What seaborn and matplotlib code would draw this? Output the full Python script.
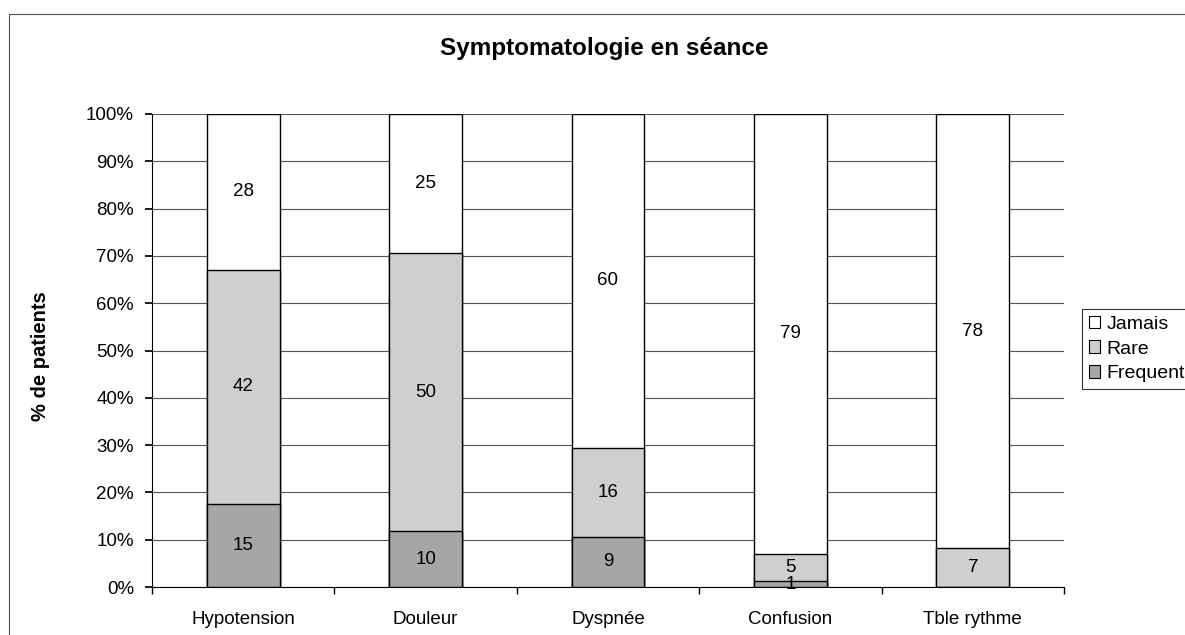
import numpy as np
import pandas as pd
import matplotlib.pyplot as plt
import seaborn as sns
from matplotlib.patches import Patch, Rectangle

categories = ["Hypotension", "Douleur", "Dyspnée", "Confusion", "Tble rythme"]
frequent = [15, 10, 9, 1, 0]
rare = [42, 50, 16, 5, 7]
jamais = [28, 25, 60, 79, 78]
series_names = ["Jamais", "Rare", "Frequent"]

sns.set_theme(style="white")
plt.rcParams['font.family'] = ['Liberation Sans', 'DejaVu Sans']
plt.rcParams['text.color'] = 'black'
plt.rcParams['xtick.color'] = 'black'
plt.rcParams['ytick.color'] = 'black'

counts = pd.DataFrame({"cat": categories, "Frequent": frequent, "Rare": rare, "Jamais": jamais})
total = counts[["Frequent", "Rare", "Jamais"]].sum(axis=1)
pct = counts[["Frequent", "Rare", "Jamais"]].div(total, axis=0) * 100
cum = pct.cumsum(axis=1)
cum["cat"] = categories

colors = {"Jamais": "white", "Rare": "#cfcfcf", "Frequent": "#a6a6a6"}

fig = plt.figure(figsize=(11.85, 6.35), dpi=100)
ax = fig.add_axes([152 / 1185, 1 - 587 / 635, 912 / 1185, 473 / 635])

# tallest cumulative bar first, shorter ones on top -> stacked look
for name in ["Jamais", "Rare", "Frequent"]:
    sns.barplot(data=cum, x="cat", y=name, color=colors[name], width=0.4,
                edgecolor="black", linewidth=1.0, saturation=1, ax=ax, zorder=3)

# value labels at segment centres
for i, c in enumerate(categories):
    bottom = 0
    for name in ["Frequent", "Rare", "Jamais"]:
        h = pct.loc[i, name]
        v = counts.loc[i, name]
        if v > 0:
            ax.text(i, bottom + h / 2, str(v), ha="center", va="center",
                    fontsize=13.5, color="black", zorder=5)
        bottom += h

ax.set_ylim(0, 100)
ax.set_xlim(-0.5, len(categories) - 0.5)
ax.set_yticks(np.arange(0, 101, 10))
ax.set_yticklabels([f"{t}%" for t in range(0, 101, 10)], fontsize=13.5)
ax.set_xticks(range(len(categories)))
ax.set_xticklabels(categories, fontsize=13.5)
ax.set_xticks(np.arange(-0.5, len(categories), 1), minor=True)
ax.tick_params(axis="x", which="major", length=0, pad=17)
ax.tick_params(axis="x", which="minor", length=5, direction="out", color="black", bottom=True)
ax.tick_params(axis="y", length=5, direction="out", color="black", left=True, pad=8)
ax.yaxis.grid(True, color="#555555", linewidth=0.8, zorder=0)
ax.set_axisbelow(True)
ax.set_xlabel("")
ax.set_ylabel("")
for s in ["top", "right"]:
    ax.spines[s].set_visible(False)
for s in ["left", "bottom"]:
    ax.spines[s].set_color("black")
    ax.spines[s].set_linewidth(0.8)

fig.text(40 / 1185, 1 - 356 / 635, "% de patients", rotation=90, ha="center", va="center",
         fontsize=14.5, fontweight="bold", color="black")
fig.text(604 / 1185, 1 - 48 / 635, "Symptomatologie en séance", ha="center", va="center",
         fontsize=17.5, fontweight="bold", color="black")

handles = [Patch(facecolor=colors[n], edgecolor="black", linewidth=0.8) for n in series_names]
leg = fig.legend(handles, series_names, loc="center left",
                 bbox_to_anchor=(1082 / 1185, 1 - 349 / 635), fontsize=14,
                 frameon=True, fancybox=False, edgecolor="black", handlelength=0.6,
                 handleheight=0.6, handletextpad=0.3, borderpad=0.35, borderaxespad=0,
                 labelspacing=0.4)
leg.get_frame().set_linewidth(0.8)

fig.patches.append(Rectangle((9 / 1185, -0.1), 1.2, 1 - 14 / 635 + 0.1,
                             transform=fig.transFigure, fill=False,
                             edgecolor="#555555", linewidth=0.8))

fig.savefig("out.png", dpi=100)
